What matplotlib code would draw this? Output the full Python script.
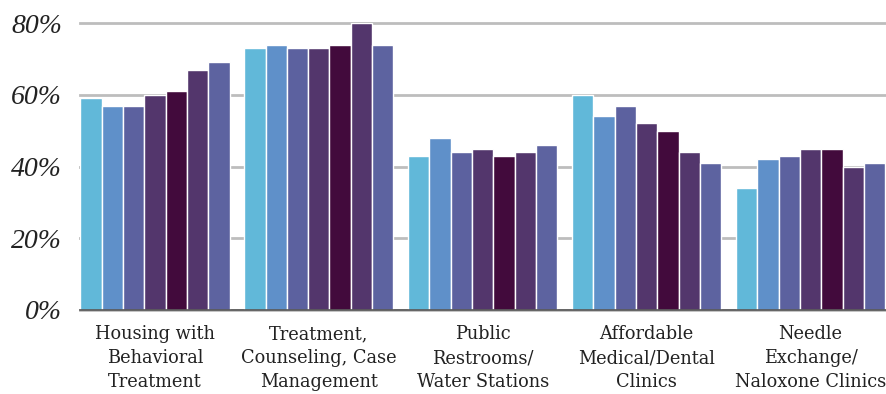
import matplotlib
matplotlib.use("Agg")
import matplotlib.pyplot as plt
import numpy as np

categories = ["Housing with\nBehavioral\nTreatment",
              "Treatment,\nCounseling, Case\nManagement",
              "Public\nRestrooms/\nWater Stations",
              "Affordable\nMedical/Dental\nClinics",
              "Needle\nExchange/\nNaloxone Clinics"]
s1 = [59, 73, 43, 60, 34]
s2 = [57, 74, 48, 54, 42]
s3 = [57, 73, 44, 57, 43]
s4 = [60, 73, 45, 52, 45]
s5 = [61, 74, 43, 50, 45]
s6 = [67, 80, 44, 44, 40]
s7 = [69, 74, 46, 41, 41]
series = [s1, s2, s3, s4, s5, s6, s7]
colors = ["#61B8D9", "#5F90C9", "#5C619F", "#53366C", "#420A3C", "#53366C", "#5D63A0"]
yticks = [0, 20, 40, 60, 80]
yticklabels = ["0%", "20%", "40%", "60%", "80%"]

fig = plt.figure(figsize=(8.86, 3.94), dpi=100)
ax = fig.add_axes([0.0903, 0.2132, 0.9097, 0.7284])

x = np.arange(len(categories))
n = len(series)
group_w = 0.91
w = group_w / n
for i, (vals, c) in enumerate(zip(series, colors)):
    ax.bar(x - group_w / 2 + w * (i + 0.5), vals, width=w, color=c,
           edgecolor="white", linewidth=1.0, zorder=3)

ax.set_ylim(0, 80)
ax.set_xlim(-0.457, 4.46)
ax.set_yticks(yticks)
ax.set_yticklabels(yticklabels, fontfamily="Liberation Serif", fontstyle="italic",
                   fontsize=20, color="#222222")
ax.set_xticks(x)
ax.set_xticklabels(categories, fontfamily="DejaVu Serif", fontsize=12.8,
                   color="#222222", linespacing=1.42)
ax.tick_params(axis="y", length=0, pad=13)
ax.tick_params(axis="x", length=0, pad=11)
ax.grid(axis="y", color="#BDBDBD", linewidth=2, zorder=0, clip_on=False)
for sp in ["top", "right", "left"]:
    ax.spines[sp].set_visible(False)
ax.spines["bottom"].set_color("#555555")
ax.spines["bottom"].set_linewidth(1.2)
ax.spines["bottom"].set_zorder(4)

fig.savefig("out.png", dpi=100)
